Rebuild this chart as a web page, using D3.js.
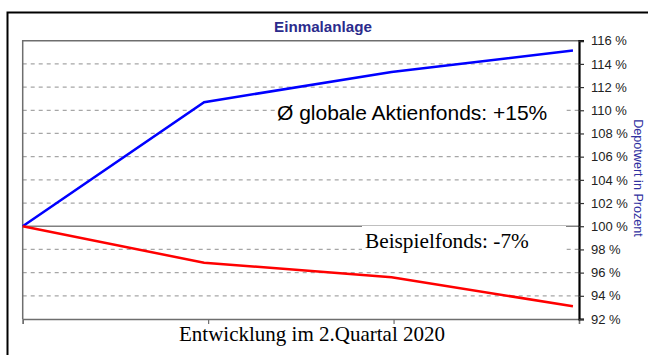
<!DOCTYPE html>
<html>
<head>
<meta charset="utf-8">
<script src="https://cdn.jsdelivr.net/npm/d3@7"></script>
<style>
  body { margin: 0; background: #fff; }
  svg { display: block; }
</style>
</head>
<body>
<div id="chart"></div>
<script>
// Stichtage (Monatsende) und Depotwerte in Prozent
const dates = ["2020-03-31", "2020-04-30", "2020-05-31", "2020-06-30"]
const globalFunds = [100, 110.7, 113.3, 115.15]
const sampleFund = [100, 96.85, 95.6, 93.1]
const yTicks = [92, 94, 96, 98, 100, 102, 104, 106, 108, 110, 112, 114, 116]

const title = "Einmalanlage"
const yTitle = "Depotwert in Prozent"
const xTitle = "Entwicklung im 2.Quartal 2020"
const globalLabel = "Ø globale Aktienfonds: +15%"
const sampleLabel = "Beispielfonds: -7%"

const W = 648, H = 355
const margin = {top: 40.7, right: 69, bottom: 36, left: 22.7}

const svg = d3.select("#chart").append("svg")
    .attr("width", W)
    .attr("height", H)

// Rahmen aussen
svg.append("path")
    .attr("d", `M7.5,${H}V12.5H${W}`)
    .attr("fill", "none")
    .attr("stroke", "#000")
    .attr("stroke-width", 2)

const parse = d3.utcParse("%Y-%m-%d")
const t0 = parse("2020-03-31"), t1 = parse("2020-07-01")

const x = d3.scaleUtc()
    .domain([t0, t1])
    .range([margin.left, W - margin.right])

const y = d3.scaleLinear()
    .domain([92, 116])
    .range([H - margin.bottom, margin.top])

// Gitterlinien
svg.append("g")
    .selectAll("line")
    .data(yTicks.filter(d => d != 92 && d != 116))
    .join("line")
    .attr("x1", margin.left)
    .attr("x2", W - margin.right)
    .attr("y1", d => y(d))
    .attr("y2", d => y(d))
    .attr("stroke", d => d == 100 ? "#808080" : "#a6a6a6")
    .attr("stroke-width", d => d == 100 ? 1.6 : 1.3)
    .attr("stroke-dasharray", d => d == 100 ? null : "4,4")

// Plotrahmen oben + links
svg.append("path")
    .attr("d", `M${margin.left},${H - margin.bottom}V${margin.top}H${W - margin.right}`)
    .attr("fill", "none")
    .attr("stroke", "#6e6e6e")
    .attr("stroke-width", 1.5)

// X Achse (Ticks in Dritteln)
const xTickVals = d3.range(4).map(i => new Date(+t0 + i * (t1 - t0) / 3))
const xAxis = svg.append("g")
    .attr("transform", `translate(0,${H - margin.bottom})`)
    .call(d3.axisBottom(x).tickValues(xTickVals).tickSize(5).tickFormat(""))
xAxis.select(".domain").attr("stroke", "#6e6e6e").attr("stroke-width", 1.5)
xAxis.selectAll(".tick line").attr("stroke", "#6e6e6e").attr("stroke-width", 1.2)

// Y Achse rechts
const yAxis = svg.append("g")
    .attr("transform", `translate(${W - margin.right},0)`)
    .call(d3.axisRight(y).tickValues(yTicks).tickSize(5).tickPadding(7).tickFormat(d => d + " %"))
yAxis.select(".domain").attr("stroke", "#000").attr("stroke-width", 2.2)
yAxis.selectAll(".tick line").attr("stroke", "#333").attr("stroke-width", 1.2)
yAxis.selectAll("text")
    .attr("font-family", "Liberation Sans, Arial, sans-serif")
    .attr("font-size", 13)
    .attr("fill", "#222")

// Linien
const line = d3.line()
    .x((d, i) => x(parse(dates[i])))
    .y(d => y(d))

svg.append("path")
    .datum(globalFunds)
    .attr("d", line)
    .attr("fill", "none")
    .attr("stroke", "#0000ff")
    .attr("stroke-width", 2.5)

svg.append("path")
    .datum(sampleFund)
    .attr("d", line)
    .attr("fill", "none")
    .attr("stroke", "#ff0000")
    .attr("stroke-width", 2.5)

// Beschriftungen mit weissem Hintergrund
svg.append("rect")
    .attr("x", 275).attr("y", 96).attr("width", 288).attr("height", 31)
    .attr("fill", "#fff")
svg.append("text")
    .attr("x", 277).attr("y", 120)
    .attr("font-family", "Liberation Sans, Arial, sans-serif")
    .attr("font-size", 21)
    .attr("fill", "#000")
    .text(globalLabel)

svg.append("rect")
    .attr("x", 362).attr("y", 226).attr("width", 204).attr("height", 31)
    .attr("fill", "#fff")
svg.append("text")
    .attr("x", 365).attr("y", 248)
    .attr("font-family", "Liberation Serif, Times New Roman, serif")
    .attr("font-size", 21.3)
    .attr("fill", "#000")
    .text(sampleLabel)

// Titel
svg.append("text")
    .attr("x", 323).attr("y", 31.5)
    .attr("text-anchor", "middle")
    .attr("font-family", "Liberation Sans, Arial, sans-serif")
    .attr("font-weight", "bold")
    .attr("font-size", 15.2)
    .attr("fill", "#2b2b8c")
    .text(title)

// Y Titel (gedreht)
svg.append("text")
    .attr("transform", "translate(634,178) rotate(90)")
    .attr("text-anchor", "middle")
    .attr("font-family", "Liberation Sans, Arial, sans-serif")
    .attr("font-size", 12.6)
    .attr("fill", "#3030a0")
    .text(yTitle)

// X Titel
svg.append("text")
    .attr("x", 312).attr("y", 341)
    .attr("text-anchor", "middle")
    .attr("font-family", "Liberation Serif, Times New Roman, serif")
    .attr("font-size", 21)
    .attr("fill", "#000")
    .text(xTitle)
</script>
</body>
</html>
